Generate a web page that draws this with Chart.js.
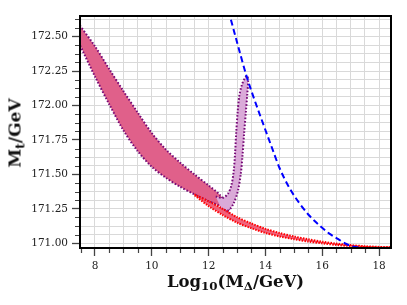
<!DOCTYPE html>
<html lang="en">
<head>
<meta charset="UTF-8" />
<title>Mt vs Log10(M_Delta)</title>
<style>
  body { margin: 0; background: #fff; }
  #wrap { position: relative; width: 407px; height: 305px; }
  canvas { display: block; }
  .axis-title {
    position: absolute;
    font-family: 'DejaVu Serif', serif;
    font-weight: bold;
    font-size: 16.5px;
    color: #111;
    white-space: nowrap;
    line-height: 1;
  }
  .axis-title sub { font-size: 0.72em; vertical-align: -0.3em; line-height: 0; }
  #xTitle { left: 235.5px; top: 282px; transform: translate(-50%, -50%); }
  #yTitle { left: 15px; top: 133px; font-size: 17px; transform: translate(-50%, -50%) rotate(-90deg); }
</style>
</head>
<body>
<div id="wrap">
  <canvas id="mtChart" width="407" height="305"></canvas>
  <div id="xTitle" class="axis-title">Log<sub>10</sub>(M<sub>Δ</sub>/GeV)</div>
  <div id="yTitle" class="axis-title">M<sub>t</sub>/GeV</div>
</div>

<script src="https://cdn.jsdelivr.net/npm/chart.js"></script>
<script>
  // pink band (upper / lower edge on a shared x grid)
  const pinkX     = [7.40, 8.0, 8.5, 9.0, 9.5, 10.0, 10.5, 11.0, 11.5, 12.0, 12.4, 12.7];
  const pinkUpper = [172.60, 172.43, 172.265, 172.105, 171.95, 171.80, 171.68, 171.585, 171.50, 171.42, 171.35, 171.26];
  const pinkLower = [172.47, 172.21, 172.01, 171.82, 171.67, 171.555, 171.475, 171.41, 171.355, 171.305, 171.27, 171.22];

  // thin red band, emerging from the pink band's lower edge
  const redX     = [11.5, 12.0, 12.5, 13.0, 13.5, 14.0, 14.5, 15.0, 15.5, 16.0, 16.5, 17.0, 17.5, 18.0, 18.5];
  const redUpper = [171.355, 171.305, 171.25, 171.19, 171.145, 171.105, 171.075, 171.05, 171.03, 171.012, 170.998, 170.987, 170.979, 170.974, 170.972];
  const redLower = [171.35, 171.27, 171.205, 171.15, 171.11, 171.075, 171.05, 171.03, 171.013, 171.0, 170.988, 170.98, 170.974, 170.97, 170.969];

  // violet spike, outline traced around
  const violetX = [12.25, 12.50, 12.68, 12.80, 12.88, 12.93, 12.97, 13.02, 13.08, 13.17, 13.28, 13.36,
                   13.39, 13.36, 13.31, 13.25, 13.19, 13.13, 13.03, 12.88, 12.70, 12.45];
  const violetY = [171.34, 171.33, 171.36, 171.42, 171.52, 171.65, 171.80, 171.95, 172.07, 172.15, 172.20, 172.215,
                   172.18, 172.08, 171.95, 171.80, 171.63, 171.50, 171.38, 171.29, 171.24, 171.25];

  // blue dashed curve
  const blueX = [12.70, 12.75, 13.0, 13.34, 13.6, 13.87, 14.2, 14.5, 14.85, 15.2, 15.55, 15.9, 16.25, 16.6, 16.85, 17.05, 17.3];
  const blueY = [172.69, 172.65, 172.46, 172.21, 172.05, 171.895, 171.71, 171.545, 171.40, 171.29, 171.20, 171.13, 171.07, 171.025, 170.995, 170.978, 170.97];

  // axes
  const xMajor = [8, 10, 12, 14, 16, 18];
  const xMinorStep = 0.5;
  const yMajor = [171.00, 171.25, 171.50, 171.75, 172.00, 172.25, 172.50];
  const yMinorStep = 0.0625;

  const xMin = 7.472, xMax = 18.42;
  const yMin = 170.966, yMax = 172.65;

  function band(xs, up, lo) {
    const pts = xs.map((x, i) => ({ x, y: up[i] }));
    for (let i = xs.length - 1; i >= 0; i--) pts.push({ x: xs[i], y: lo[i] });
    return pts;
  }
  const zip = (xs, ys) => xs.map((x, i) => ({ x, y: ys[i] }));

  function stepTicks(lo, hi, step) {
    const out = [];
    for (let v = Math.ceil(lo / step) * step; v <= hi + 1e-9; v += step) out.push({ value: +v.toFixed(4) });
    return out;
  }
  const isXMajor = v => xMajor.some(m => Math.abs(m - v) < 1e-6);
  const isYMajor = v => yMajor.some(m => Math.abs(m - v) < 1e-6);

  // minor ticks (shorter) and the closed black frame
  const axisExtras = {
    id: 'axisExtras',
    afterDraw(chart) {
      const { ctx, chartArea: a, scales: { x, y } } = chart;
      ctx.save();
      ctx.strokeStyle = '#444';
      ctx.lineWidth = 1.2;
      ctx.beginPath();
      x.ticks.forEach(t => {
        if (isXMajor(t.value)) return;
        const px = Math.round(x.getPixelForValue(t.value)) + 0.5;
        ctx.moveTo(px, a.bottom);
        ctx.lineTo(px, a.bottom + 5);
      });
      y.ticks.forEach(t => {
        if (isYMajor(t.value)) return;
        const py = Math.round(y.getPixelForValue(t.value)) + 0.5;
        ctx.moveTo(a.left, py);
        ctx.lineTo(a.left - 5, py);
      });
      ctx.stroke();
      ctx.strokeStyle = '#000';
      ctx.lineWidth = 2;
      ctx.strokeRect(a.left, a.top, a.right - a.left, a.bottom - a.top);
      ctx.restore();
    }
  };

  const purple = '#760a76';
  const tickFont = { family: 'DejaVu Serif', size: 10.5 };

  new Chart(document.getElementById('mtChart'), {
    type: 'scatter',
    data: {
      datasets: [
        {
          data: zip(blueX, blueY),
          showLine: true,
          borderColor: '#0000ff',
          borderWidth: 2,
          borderDash: [6, 3.5],
          cubicInterpolationMode: 'monotone',
          fill: false,
          order: 0
        },
        {
          data: band(redX, redUpper, redLower),
          showLine: true,
          borderColor: '#ff0000',
          borderWidth: 2,
          borderDash: [1.5, 1.3],
          backgroundColor: 'rgba(238, 70, 100, 0.85)',
          fill: 'shape',
          tension: 0.3,
          order: 1
        },
        {
          data: zip(violetX, violetY),
          showLine: true,
          borderColor: purple,
          borderWidth: 2,
          borderDash: [1.6, 1.8],
          backgroundColor: 'rgb(218, 170, 216)',
          fill: 'shape',
          tension: 0.3,
          order: 2
        },
        {
          data: band(pinkX, pinkUpper, pinkLower),
          showLine: true,
          borderColor: purple,
          borderWidth: 2,
          borderDash: [1.6, 1.8],
          backgroundColor: 'rgb(224, 96, 138)',
          fill: 'shape',
          tension: 0.3,
          order: 3
        }
      ]
    },
    options: {
      responsive: false,
      animation: false,
      layout: { padding: { top: 16, right: 16, left: 0, bottom: 0 } },
      elements: { point: { radius: 0, hoverRadius: 0 } },
      plugins: { legend: { display: false }, tooltip: { enabled: false } },
      scales: {
        x: {
          type: 'linear',
          min: xMin,
          max: xMax,
          afterBuildTicks: s => { s.ticks = stepTicks(xMin, xMax, xMinorStep); },
          afterFit: s => { s.height = 57; },
          border: { display: true, color: '#000', width: 2 },
          grid: {
            color: '#d9d9d9',
            lineWidth: 1,
            tickLength: 8,
            tickWidth: 1.3,
            tickColor: c => (c.tick && isXMajor(c.tick.value)) ? '#444' : 'rgba(0,0,0,0)'
          },
          ticks: {
            autoSkip: false,
            maxRotation: 0,
            padding: 4,
            color: '#222',
            font: tickFont,
            callback: v => isXMajor(v) ? String(Math.round(v)) : ''
          }
        },
        y: {
          type: 'linear',
          min: yMin,
          max: yMax,
          afterBuildTicks: s => { s.ticks = stepTicks(yMin, yMax, yMinorStep); },
          afterFit: s => { s.width = 80; },
          border: { display: true, color: '#000', width: 2 },
          grid: {
            color: '#d9d9d9',
            lineWidth: 1,
            tickLength: 8,
            tickWidth: 1.3,
            tickColor: c => (c.tick && isYMajor(c.tick.value)) ? '#444' : 'rgba(0,0,0,0)'
          },
          ticks: {
            autoSkip: false,
            padding: 4,
            color: '#222',
            font: tickFont,
            callback: v => isYMajor(v) ? v.toFixed(2) : ''
          }
        }
      }
    },
    plugins: [axisExtras]
  });
</script>
</body>
</html>
